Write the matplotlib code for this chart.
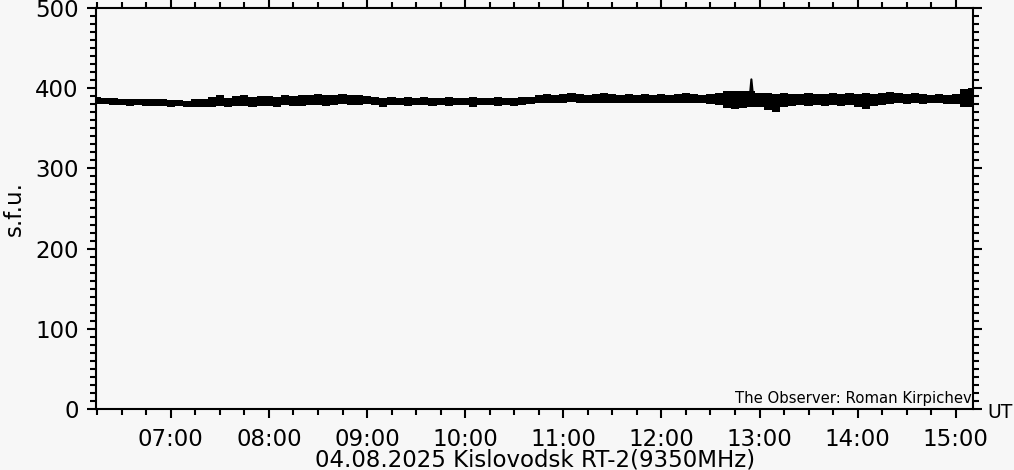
import numpy as np
import matplotlib
matplotlib.use("Agg")
import matplotlib.pyplot as plt
from matplotlib.ticker import MultipleLocator, FuncFormatter

# flux envelope (s.f.u.), one sample every 5 min from 06:15 UT
start_hour = 6.25
step_min = 5
upper_sfu = [
    389, 388, 388, 387, 387, 386, 387, 386, 386,
    385, 385, 384, 386, 386, 389, 392, 388, 390, 391, 389, 390,
    390, 389, 391, 390, 391, 392, 393, 391, 392, 393, 391, 392,
    390, 389, 388, 389, 388, 389, 388, 389, 388, 388, 389, 388,
    388, 389, 388, 388, 389, 388, 388, 389, 389, 391, 393, 392,
    393, 394, 393, 392, 393, 394, 393, 392, 393, 392, 393, 392,
    393, 392, 393, 394, 393, 392, 393, 394, 396, 396, 397, 397,
    394, 394, 393, 394, 393, 393, 394, 393, 393, 394, 393, 394,
    393, 394, 393, 394, 395, 394, 393, 394, 393, 392, 393, 392,
    393, 399, 400,
]
lower_sfu = [
    380, 380, 379, 379, 378, 379, 378, 378, 378,
    377, 378, 376, 377, 376, 377, 378, 376, 378, 378, 377, 378,
    378, 377, 379, 378, 378, 379, 379, 378, 379, 380, 379, 379,
    380, 379, 377, 379, 379, 378, 379, 379, 378, 379, 378, 379,
    379, 377, 379, 379, 378, 379, 378, 379, 380, 381, 382, 382,
    382, 383, 382, 382, 381, 382, 382, 381, 382, 381, 382, 381,
    382, 381, 382, 381, 382, 381, 380, 379, 375, 374, 375, 377,
    376, 373, 370, 376, 378, 379, 378, 379, 378, 379, 378, 379,
    377, 374, 378, 379, 380, 381, 380, 381, 380, 381, 381, 380,
    380, 377, 376,
]

# short burst near 12:55
spike_hours = [12.905, 12.917, 12.93]
spike_sfu = [395, 411, 395]

hour_labels = ["07:00", "08:00", "09:00", "10:00", "11:00",
               "12:00", "13:00", "14:00", "15:00"]

bg = "#f7f7f7"
fs = 16.5
times = start_hour + np.arange(len(upper_sfu)) * step_min / 60.0

fig = plt.figure(figsize=(10.14, 4.7), dpi=100, facecolor=bg)
ax = fig.add_axes([0.0947, 0.1298, 0.8649, 0.8532], facecolor=bg)

ax.fill_between(times, lower_sfu, upper_sfu, color="black", lw=0, step="mid")
ax.plot(spike_hours, spike_sfu, color="black", lw=1.5)

ax.set_xlim(6.238, 15.176)
ax.set_ylim(0, 500)

ax.xaxis.set_major_locator(MultipleLocator(1))
ax.xaxis.set_minor_locator(MultipleLocator(0.25))
ax.yaxis.set_major_locator(MultipleLocator(100))
ax.yaxis.set_minor_locator(MultipleLocator(10))


def fmt_hour(x, pos):
    h = int(round(x))
    lab = "%02d:00" % h
    return lab if lab in hour_labels else ""


ax.xaxis.set_major_formatter(FuncFormatter(fmt_hour))

for s in ax.spines.values():
    s.set_linewidth(1.5)

ax.tick_params(which="both", direction="out", top=True, right=True,
               width=1.5, colors="black", labelsize=fs)
ax.tick_params(which="major", length=6.5)
ax.tick_params(which="minor", length=4.3)
ax.tick_params(axis="x", which="major", pad=7)
ax.tick_params(axis="y", which="major", pad=6)

fig.text(0.5276, 1 - 460 / 470, "04.08.2025 Kislovodsk RT-2(9350MHz)",
         ha="center", va="center", fontsize=fs)
fig.text(14 / 1014, 1 - 209 / 470, "s.f.u.", rotation=90,
         ha="center", va="center", fontsize=fs)
fig.text(987 / 1014, 1 - 412 / 470, "UT", ha="left", va="center", fontsize=13.5)
ax.text(0.9985, 0.008, "The Observer: Roman Kirpichev", transform=ax.transAxes,
        ha="right", va="bottom", fontsize=10.7)

fig.savefig("out.png", dpi=100, facecolor=bg)
